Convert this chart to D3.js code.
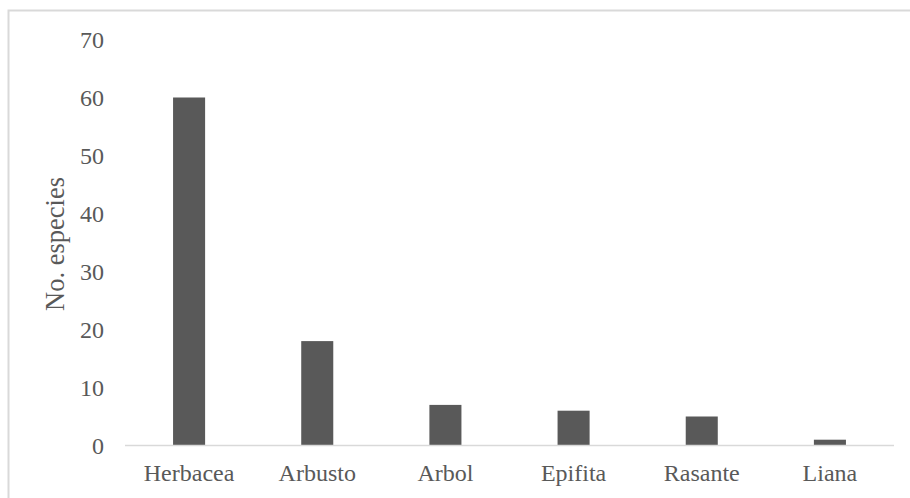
<!DOCTYPE html>
<html><head><meta charset="utf-8">
<script src="https://cdn.jsdelivr.net/npm/d3@7"></script>
<style>body{margin:0;background:#fff} text{font-family:"Liberation Serif","Times New Roman",serif}</style>
</head><body>
<svg id="c" width="910" height="498"></svg>
<script>
const categories = ["Herbacea","Arbusto","Arbol","Epifita","Rasante","Liana"];
const values = [60,18,7,6,5,1];
const yTicks = [0,10,20,30,40,50,60,70];

(function(){
const svg = d3.select("#c");
const font = '"Liberation Serif","Times New Roman",serif';
svg.append("rect").attr("x",8.5).attr("y",10.5).attr("width",910).attr("height",500)
  .attr("fill","#fff").attr("stroke","#d9d9d9").attr("stroke-width",2);

const pl=125, pr=894, pt=39.5, pb=445.5;
const x = d3.scaleBand().domain(categories).range([pl,pr]).paddingInner(0.75).paddingOuter(0.375);
const y = d3.scaleLinear().domain([0,70]).range([pb,pt]);

svg.append("g").selectAll("rect").data(values).join("rect")
  .attr("x",(d,i)=>x(categories[i])).attr("width",x.bandwidth())
  .attr("y",d=>y(d)).attr("height",d=>y(0)-y(d)).attr("fill","#595959");

svg.append("line").attr("x1",pl).attr("x2",pr).attr("y1",y(0)).attr("y2",y(0))
  .attr("stroke","#d9d9d9").attr("stroke-width",1.5);

const ya = svg.append("g").attr("transform",`translate(${pl},0)`)
  .call(d3.axisLeft(y).tickValues(yTicks).tickSize(0).tickPadding(21));
ya.attr("font-family",null).attr("font-size",null);
ya.select(".domain").remove();
ya.selectAll("text").style("font-family",font).style("font-size","24px").attr("fill","#595959");

const xa = svg.append("g").attr("transform",`translate(0,${pb})`)
  .call(d3.axisBottom(x).tickSize(0).tickPadding(18.5));
xa.attr("font-family",null).attr("font-size",null);
xa.select(".domain").remove();
xa.selectAll("text").style("font-family",font).style("font-size","24px").attr("fill","#595959");

svg.append("text").attr("transform",`translate(64,244) rotate(-90)`)
  .attr("text-anchor","middle").style("font-family",font).style("font-size","26.5px")
  .attr("fill","#595959").text("No. especies");
})();
</script>
</body></html>
